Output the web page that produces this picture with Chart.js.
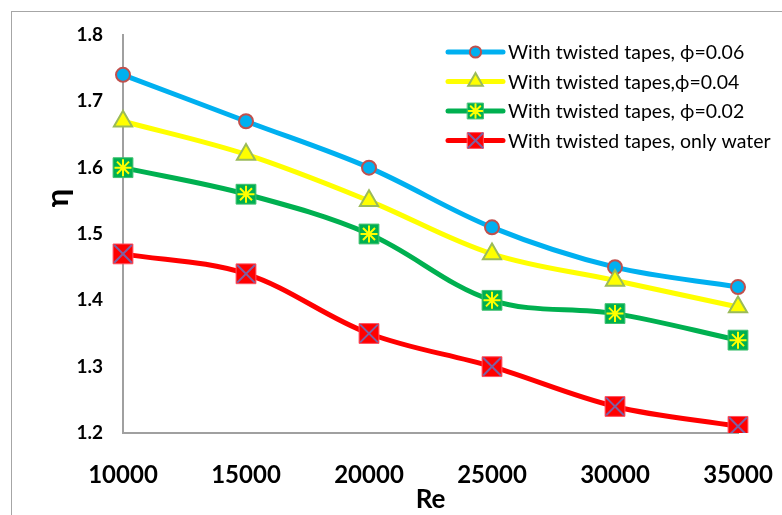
<!DOCTYPE html>
<html>
<head>
<meta charset="utf-8">
<script src="https://cdn.jsdelivr.net/npm/chart.js@4.4.1/dist/chart.umd.min.js"></script>
<style>
    html, body { margin: 0; padding: 0; background: #fff; }
    #frame { position: absolute; left: 11px; top: 11px; width: 900px; height: 700px; border: 1.5px solid #a6a6a6; }
    #wrap { position: absolute; left: 0; top: 0; width: 782px; height: 515px; }
</style>
</head>
<body>
<div id="frame"></div>
<div id="wrap"><canvas id="chartEta"></canvas></div>
<script>
const reLabels = ["10000", "15000", "20000", "25000", "30000", "35000"];
const etaPhi006 = [1.74, 1.67, 1.60, 1.51, 1.45, 1.42];
const etaPhi004 = [1.67, 1.62, 1.55, 1.47, 1.43, 1.39];
const etaPhi002 = [1.60, 1.56, 1.50, 1.40, 1.38, 1.34];
const etaWater = [1.47, 1.44, 1.35, 1.30, 1.24, 1.21];
const seriesNames = [
    "With twisted tapes, ϕ=0.06",
    "With twisted tapes,ϕ=0.04",
    "With twisted tapes, ϕ=0.02",
    "With twisted tapes, only water"
];
const yTickValues = [1.2, 1.3, 1.4, 1.5, 1.6, 1.7, 1.8];

const FONT = "Lato, 'Open Sans', 'DejaVu Sans', sans-serif";

// main series: line + base marker
function serie(label, data, color, marker, order) {
    return {
        label: label,
        data: data,
        borderColor: color,
        borderWidth: 5,
        tension: 0.35,
        fill: false,
        pointStyle: marker.style,
        pointRadius: marker.radius,
        pointBackgroundColor: marker.fill,
        pointBorderColor: marker.border,
        pointBorderWidth: marker.borderWidth,
        order: order,
        legendMarker: marker
    };
}

// extra symbol drawn over the base marker (star / cross)
function overlay(data, marker) {
    return {
        label: "",
        data: data,
        showLine: false,
        pointStyle: marker.style,
        pointRadius: marker.radius,
        pointBackgroundColor: marker.border,
        pointBorderColor: marker.border,
        pointBorderWidth: marker.borderWidth,
        order: 0,
        isOverlay: true
    };
}

const mkCircle = { style: "circle", radius: 7, fill: "#00b0f0", border: "#c0504d", borderWidth: 2 };
const mkTriangle = { style: "triangle", radius: 10.5, fill: "#ffff00", border: "#9bbb59", borderWidth: 2 };
const mkGreenSq = { style: "rect", radius: 14, fill: "#00b050", border: "#3fc070", borderWidth: 1 };
const mkStar = { style: "star", radius: 8.5, border: "#ffff00", borderWidth: 2 };
const mkRedSq = { style: "rect", radius: 14, fill: "#ff0000", border: "#ff5060", borderWidth: 1 };
const mkCross = { style: "crossRot", radius: 12.5, border: "#7f5fa0", borderWidth: 2 };

mkGreenSq.extra = mkStar;
mkRedSq.extra = mkCross;

const legendPlugin = {
    id: "lineLegend",
    afterDraw(chart) {
        const ctx = chart.ctx;
        const x0 = 448, x1 = 503, yStart = 52, dy = 29.5;
        let row = 0;
        ctx.save();
        chart.data.datasets.forEach(ds => {
            if (ds.isOverlay) return;
            const y = yStart + row * dy;
            ctx.strokeStyle = ds.borderColor;
            ctx.lineWidth = 5;
            ctx.lineCap = "round";
            ctx.beginPath();
            ctx.moveTo(x0, y);
            ctx.lineTo(x1, y);
            ctx.stroke();
            const m = ds.legendMarker;
            const scale = 0.8;
            const xm = (x0 + x1) / 2;
            ctx.fillStyle = m.fill;
            ctx.strokeStyle = m.border;
            ctx.lineWidth = m.borderWidth;
            Chart.helpers.drawPoint(ctx, { pointStyle: m.style, radius: m.radius * scale, rotation: 0, borderWidth: m.borderWidth }, xm, y);
            if (m.extra) {
                ctx.strokeStyle = m.extra.border;
                ctx.fillStyle = m.extra.border;
                ctx.lineWidth = m.extra.borderWidth;
                Chart.helpers.drawPoint(ctx, { pointStyle: m.extra.style, radius: m.extra.radius * scale, rotation: 0, borderWidth: m.extra.borderWidth }, xm, y);
            }
            ctx.fillStyle = "#000";
            ctx.font = "19.5px " + FONT;
            ctx.textAlign = "left";
            ctx.textBaseline = "middle";
            ctx.fillText(ds.label, x1 + 5, y + 1);
            row++;
        });
        ctx.restore();
    }
};

const yTitlePlugin = {
    id: "yTitle",
    afterDraw(chart) {
        const ctx = chart.ctx;
        ctx.save();
        ctx.translate(58, 198);
        ctx.rotate(-Math.PI / 2);
        ctx.fillStyle = "#000";
        ctx.font = "bold 31px " + FONT;
        ctx.textAlign = "center";
        ctx.textBaseline = "middle";
        ctx.fillText("η", 0, 0);
        ctx.restore();
    }
};

document.addEventListener("DOMContentLoaded", () => {
    const ctx = document.getElementById("chartEta");

    const data = {
        labels: reLabels,
        datasets: [
            serie(seriesNames[0], etaPhi006, "#00b0f0", mkCircle, 4),
            serie(seriesNames[1], etaPhi004, "#ffff00", mkTriangle, 3),
            serie(seriesNames[2], etaPhi002, "#00b050", mkGreenSq, 2),
            serie(seriesNames[3], etaWater, "#ff0000", mkRedSq, 1),
            overlay(etaPhi002, mkStar),
            overlay(etaWater, mkCross)
        ]
    };

    const options = {
        responsive: true,
        maintainAspectRatio: false,
        animation: false,
        layout: { padding: { top: 35, right: 44, left: 0, bottom: 0 } },
        plugins: {
            legend: { display: false },
            tooltip: { enabled: false }
        },
        scales: {
            x: {
                type: "category",
                offset: false,
                grid: { display: false },
                border: { display: true, color: "#a0a0a0", width: 2 },
                ticks: {
                    color: "#000",
                    padding: 20,
                    maxRotation: 0,
                    font: { family: FONT, size: 24, weight: "bold" }
                },
                title: {
                    display: true,
                    text: "Re",
                    color: "#000",
                    padding: { top: 0, bottom: 0 },
                    font: { family: FONT, size: 26, weight: "bold" }
                },
                afterFit: s => { s.height = 82; s.paddingLeft = 0; s.paddingRight = 0; }
            },
            y: {
                min: 1.2,
                max: 1.8,
                grid: { display: false },
                border: { display: true, color: "#a0a0a0", width: 2 },
                afterBuildTicks: s => { s.ticks = yTickValues.map(v => ({ value: v })); },
                ticks: {
                    color: "#000",
                    padding: 12,
                    font: { family: FONT, size: 19, weight: "bold" },
                    callback: v => Number(v).toFixed(1)
                },
                afterFit: s => { s.width = 123; }
            }
        }
    };

    new Chart(ctx, {
        type: "line",
        data: data,
        options: options,
        plugins: [legendPlugin, yTitlePlugin]
    });
});
</script>
</body>
</html>
